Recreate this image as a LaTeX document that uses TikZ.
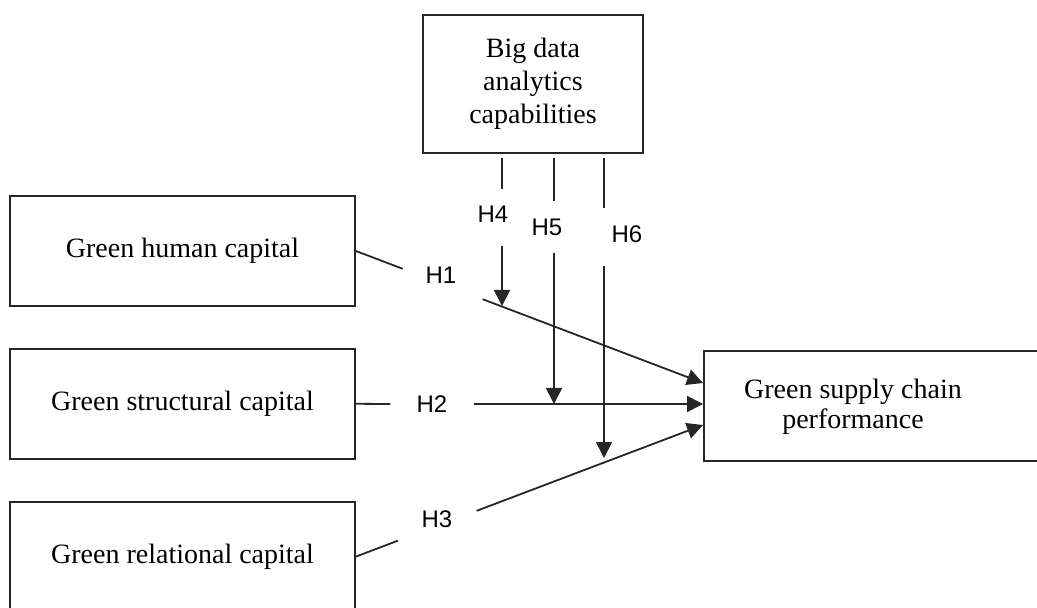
\documentclass[tikz,border=0pt]{standalone}
\usepackage{fontspec}
\setmainfont{Liberation Serif}
\newfontfamily\hypfont{Liberation Sans}
\usepackage{tikz}
\usetikzlibrary{arrows.meta,positioning,calc}

\begin{document}
\begin{tikzpicture}[x=0.5pt,y=-0.5pt,node distance=20.5pt,
    box/.style={rectangle,draw=black!85,line width=0.9pt,align=center,inner sep=0pt,
        minimum width=172.5pt,minimum height=55pt,font=\fontsize{14}{16.5}\selectfont},
    hyp/.style={inner sep=0pt,font=\hypfont\fontsize{12}{14}\selectfont},
    link/.style={draw=black!85,line width=0.9pt},
    arr/.style={link,-{Triangle[length=8pt,width=8pt]}}]

    \useasboundingbox (0,0) rectangle (1037,608);

    \node[box] (human) at (182.5,251) {Green human capital};
    \node[box,below=of human] (structural) {Green structural capital};
    \node[box,below=of structural] (relational) {Green relational capital};
    \node[box,minimum width=110pt,minimum height=69pt] (bigdata) at (533,84) {Big data\\analytics\\capabilities};
    \node[box,minimum width=170pt,anchor=west] (performance) at (703,406) {};
    \node[align=center,font=\fontsize{14}{15}\selectfont] (perftext) at (853,407) {Green supply chain\\performance};

    % hypothesis labels
    \node[hyp] (h1) at (441,275) {H1};
    \node[hyp,inner xsep=13pt] (h2) at (432,404) {H2};
    \node[hyp] (h3) at (437,519) {H3};
    \node[hyp] (h4) at (493,214) {H4};
    \node[hyp] (h5) at (547,227) {H5};
    \node[hyp] (h6) at (627,234) {H6};

    \coordinate (in1) at ([yshift=11.5pt]performance.west);
    \coordinate (in3) at ([yshift=-9.5pt]performance.west);
    \coordinate (t4) at (502,306);
    \coordinate (t5) at (554,404);
    \coordinate (t6) at (604,458);

    % direct paths
    \draw[link] (human.east) -- ($(human.east)!0.135!(in1)$);
    \draw[arr] ($(human.east)!0.365!(in1)$) -- (in1);
    \draw[link] (structural.east) -- (h2.west);
    \draw[arr] (h2.east) -- (h2.east -| performance.west);
    \draw[link] (relational.east) -- ($(relational.east)!0.121!(in3)$);
    \draw[arr] ($(relational.east)!0.348!(in3)$) -- (in3);

    % moderating paths
    \draw[link] ([yshift=-2pt]bigdata.south -| t4) -- ++(0,31);
    \draw[arr] (502,246) -- (t4);
    \draw[link] ([yshift=-2pt]bigdata.south -| t5) -- ++(0,43);
    \draw[arr] (554,253) -- (t5);
    \draw[link] ([yshift=-2pt]bigdata.south -| t6) -- ++(0,50);
    \draw[arr] (604,266) -- (t6);
\end{tikzpicture}
\end{document}
